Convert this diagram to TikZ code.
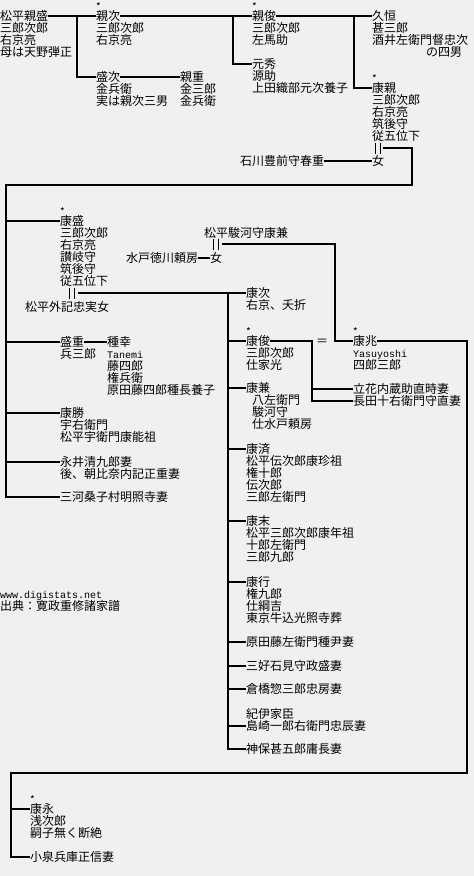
\documentclass[tikz,border=0pt]{standalone}
\usepackage{fontspec}
\newfontfamily\jp{Noto Sans CJK JP}
\newfontfamily\lat{Liberation Mono}
\newcommand\jpfont{\jp\fontsize{12}{12}\selectfont\lineskiplimit=-20pt\relax}
\newcommand\hw[1]{{\fontsize{10}{12}\lat #1}}
\definecolor{paper}{RGB}{240,240,240}
\tikzset{
  every node/.style={inner sep=0pt, font=\jpfont},
  nm/.style={anchor=west, text height=10.5pt, text depth=1.5pt},
  sub/.style={anchor=base west, text width=170pt, align=left},
  ast/.style={anchor=base west, font=\jp\fontsize{10}{12}\selectfont},
  link/.style={line width=2pt},
  wedmark/.pic={\draw[line width=1pt] (-2.5,-5.5) -- (-2.5,5.5) (2.5,-5.5) -- (2.5,5.5);}
}
\begin{document}
\begin{tikzpicture}[x=1pt, y=-1pt]
  \fill[paper] (0,0) rectangle (474,876);
  \useasboundingbox (0,0) rectangle (474,876);

  % Chikamori and his sons
  \node[nm] (chikamori) at (0,16) {松平親盛};
  \node[sub] (chikamori-d) at ([yshift=-12pt]chikamori.base west) {三郎次郎\\右京亮\\母は天野弾正};
  \node[nm] (chikatsugu) at (96,16) {親次};
  \node[ast] (chikatsugu-s) at ([yshift=10.5pt]chikatsugu.base west) {*};
  \node[sub] (chikatsugu-d) at ([yshift=-12pt]chikatsugu.base west) {三郎次郎\\右京亮};
  \node[nm] (moritsugu) at (96,77) {盛次};
  \node[sub] (moritsugu-d) at ([yshift=-12pt]moritsugu.base west) {金兵衛\\実は親次三男};
  \node[nm] (chikashige) at (180,77) {親重};
  \node[sub] (chikashige-d) at ([yshift=-12pt]chikashige.base west) {金三郎\\金兵衛};
  \node[nm] (chikatoshi) at (252,16) {親俊};
  \node[ast] (chikatoshi-s) at ([yshift=10.5pt]chikatoshi.base west) {*};
  \node[sub] (chikatoshi-d) at ([yshift=-12pt]chikatoshi.base west) {三郎次郎\\左馬助};
  \node[nm] (motohide) at (252,64) {元秀};
  \node[sub] (motohide-d) at ([yshift=-12pt]motohide.base west) {源助\\上田織部元次養子};
  \node[nm] (hisatsune) at (372,16) {久恒};
  \node[sub] (hisatsune-d) at ([yshift=-12pt]hisatsune.base west) {甚三郎\\酒井左衛門督忠次\\\hspace*{54pt}の四男};
  \node[nm] (yasuchika) at (372,88) {康親};
  \node[ast] (yasuchika-s) at ([yshift=10.5pt]yasuchika.base west) {*};
  \node[sub] (yasuchika-d) at ([yshift=-12pt]yasuchika.base west) {三郎次郎\\右京亮\\筑後守\\従五位下};
  \node[nm] (harushige) at (240,161) {石川豊前守春重};
  \node[nm] (onna1) at (372,161) {女};

  % Yasuchika's children
  \node[nm] (yasumori) at (60,221) {康盛};
  \node[ast] (yasumori-s) at ([yshift=10.5pt]yasumori.base west) {*};
  \node[sub] (yasumori-d) at ([yshift=-12pt]yasumori.base west) {三郎次郎\\右京亮\\讃岐守\\筑後守\\従五位下};
  \node[nm] (tadazane) at (25,307) {松平外記忠実女};
  \node[nm] (morishige) at (60,342) {盛重};
  \node[sub] (morishige-d) at ([yshift=-12pt]morishige.base west) {兵三郎};
  \node[nm] (taneyuki) at (107,342) {種幸};
  \node[sub] (taneyuki-d) at ([yshift=-12pt]taneyuki.base west) {\hw{Tanemi}\\藤四郎\\権兵衛\\原田藤四郎種長養子};
  \node[nm] (yasukatsu) at (60,413) {康勝};
  \node[sub] (yasukatsu-d) at ([yshift=-12pt]yasukatsu.base west) {宇右衛門\\松平宇衛門康能祖};
  \node[nm] (nagai) at (60,462) {永井清九郎妻};
  \node[sub] (nagai-d) at ([yshift=-12pt]nagai.base west) {後、朝比奈内記正重妻};
  \node[nm] (mikawa) at (60,497) {三河桑子村明照寺妻};

  % Kanesada's side
  \node[nm] (yasukane) at (204,233) {松平駿河守康兼};
  \node[nm] (yorifusa) at (126,258) {水戸徳川頼房};
  \node[nm] (onna2) at (210,258) {女};

  % Yasumori's children
  \node[nm] (yasutsugu) at (246,293) {康次};
  \node[sub] (yasutsugu-d) at ([yshift=-12pt]yasutsugu.base west) {右京、夭折};
  \node[nm] (yasutoshi) at (246,341) {康俊};
  \node[ast] (yasutoshi-s) at ([yshift=10.5pt]yasutoshi.base west) {*};
  \node[sub] (yasutoshi-d) at ([yshift=-12pt]yasutoshi.base west) {三郎次郎\\仕家光};
  \node[nm] (eq) at (316,341) {＝};
  \node[nm] (yasuyoshi) at (353,341) {康兆};
  \node[ast] (yasuyoshi-s) at ([yshift=10.5pt]yasuyoshi.base west) {*};
  \node[sub] (yasuyoshi-d) at ([yshift=-12pt]yasuyoshi.base west) {\hw{Yasuyoshi}\\四郎三郎};
  \node[nm] (tachibana) at (353,389) {立花内蔵助直時妻};
  \node[nm] (osada) at (353,401) {長田十右衛門守直妻};
  \node[nm] (yasukane2) at (246,388) {康兼};
  \node[sub] (yasukane2-d) at ([xshift=6pt,yshift=-12pt]yasukane2.base west) {八左衛門\\駿河守\\仕水戸頼房};
  \node[nm] (yasuzumi) at (246,449) {康済};
  \node[sub] (yasuzumi-d) at ([yshift=-12pt]yasuzumi.base west) {松平伝次郎康珍祖\\権十郎\\伝次郎\\三郎左衛門};
  \node[nm] (yasusue) at (246,521) {康末};
  \node[sub] (yasusue-d) at ([yshift=-12pt]yasusue.base west) {松平三郎次郎康年祖\\十郎左衛門\\三郎九郎};
  \node[nm] (yasuyuki) at (246,582) {康行};
  \node[sub] (yasuyuki-d) at ([yshift=-12pt]yasuyuki.base west) {権九郎\\仕綱吉\\東京牛込光照寺葬};
  \node[nm] (harada) at (246,642) {原田藤左衛門種尹妻};
  \node[nm] (miyoshi) at (246,666) {三好石見守政盛妻};
  \node[nm] (kurahashi) at (246,689) {倉橋惣三郎忠房妻};
  \node[nm] (shimazaki) at (246,726) {島崎一郎右衛門忠辰妻};
  \node[sub] (shimazaki-u) at ([yshift=12pt]shimazaki.base west) {紀伊家臣};
  \node[nm] (jinbo) at (246,749) {神保甚五郎庸長妻};

  % Yasuyoshi's children
  \node[nm] (yasunaga) at (30,809) {康永};
  \node[ast] (yasunaga-s) at ([yshift=10.5pt]yasunaga.base west) {*};
  \node[sub] (yasunaga-d) at ([yshift=-12pt]yasunaga.base west) {浅次郎\\嗣子無く断絶};
  \node[nm] (koizumi) at (30,857) {小泉兵庫正信妻};

  % source
  \node[nm] (web) at (0,594) {\hw{www.digistats.net}};
  \node[sub] (source) at ([yshift=-12pt]web.base west) {出典：寛政重修諸家譜};

  % marriage marks
  \pic at (377.5,148) {wedmark};
  \pic at (72,293) {wedmark};
  \pic at (215.5,244) {wedmark};

  \coordinate (j1) at (77,16);
  \coordinate (j2) at (233,16);
  \coordinate (j3) at (354,16);
  \coordinate (m1) at (383,148);
  \coordinate (c1) at (412,185);
  \coordinate (l1) at (6,185);
  \coordinate (m2) at (78,293);
  \coordinate (l2) at (228,293);
  \coordinate (m3) at (222,244);
  \coordinate (c3) at (335,341);
  \coordinate (j4) at (312,341);
  \coordinate (r1) at (467,341);
  \coordinate (r2) at (467,773);
  \coordinate (l4) at (11,773);

  \draw[link] (chikamori) -- (chikatsugu) (j1) |- (moritsugu);
  \draw[link] (moritsugu) -- (chikashige);
  \draw[link] (chikatsugu) -- (chikatoshi) (j2) |- (motohide);
  \draw[link] (chikatoshi) -- (hisatsune) (j3) |- (yasuchika);
  \draw[link] (harushige) -- (onna1);
  \draw[link] (m1) -| (c1) -- (l1) |- (mikawa);
  \foreach \p in {yasumori,morishige,yasukatsu,nagai}
    \draw[link] (l1 |- \p) -- (\p);
  \draw[link] (morishige) -- (taneyuki);
  \draw[link] (m2) -- (yasutsugu) (l2) |- (jinbo);
  \foreach \p in {yasutoshi,yasukane2,yasuzumi,yasusue,yasuyuki,harada,miyoshi,kurahashi,shimazaki}
    \draw[link] (l2 |- \p) -- (\p);
  \draw[link] (yorifusa) -- (onna2);
  \draw[link] (m3) -| (c3) -- (yasuyoshi);
  \draw[link] (yasutoshi) -- (j4) |- (osada) (j4 |- tachibana) -- (tachibana);
  \draw[link] (yasuyoshi) -- (r1) -- (r2) -- (l4) |- (koizumi);
  \draw[link] (l4 |- yasunaga) -- (yasunaga);
\end{tikzpicture}
\end{document}
